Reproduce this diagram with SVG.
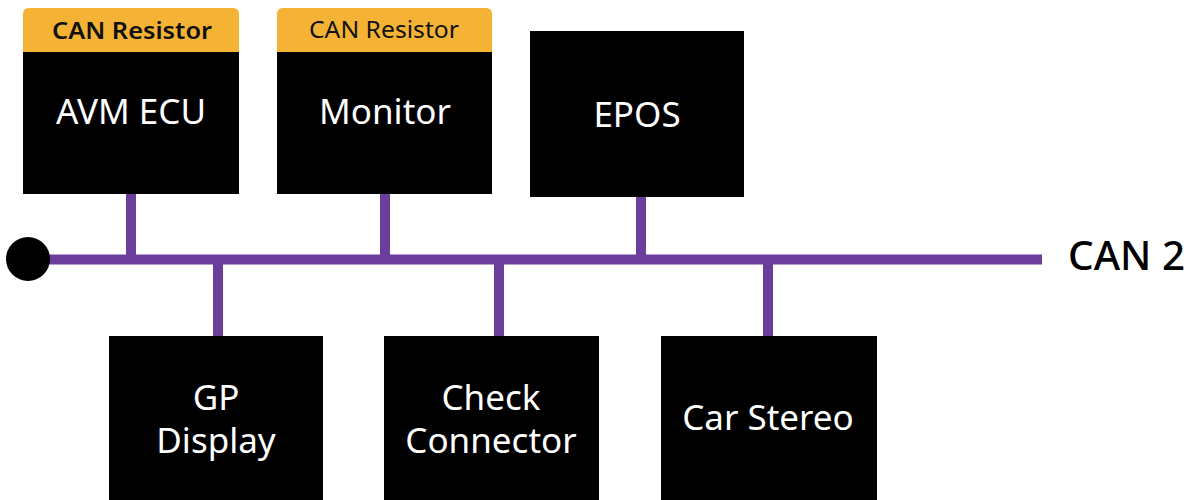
<svg xmlns="http://www.w3.org/2000/svg" width="1192" height="500" viewBox="0 0 1192 500">
<style>
.box{fill:#000}
.hdr{fill:#F5B335}
.lbl{fill:#fff;font-family:"Noto Sans","Open Sans",sans-serif;font-size:35px;text-anchor:middle}
.res{fill:#111;font-family:"Noto Sans","Open Sans",sans-serif;font-size:24px;text-anchor:middle}
.wire{stroke:#6B3E9B;stroke-width:10;fill:none}
</style>
<rect width="1192" height="500" fill="#fff"/>
<g id="connectors">
<line class="wire" x1="28" y1="259.5" x2="1042" y2="259.5"/>
<line class="wire" x1="131" y1="194" x2="131" y2="259"/>
<line class="wire" x1="385" y1="194" x2="385" y2="259"/>
<line class="wire" x1="641" y1="194" x2="641" y2="259"/>
<line class="wire" x1="218" y1="260" x2="218" y2="337"/>
<line class="wire" x1="499" y1="260" x2="499" y2="337"/>
<line class="wire" x1="768" y1="260" x2="768" y2="338"/>
<circle cx="28" cy="259" r="22" fill="#000"/>
</g>
<g id="avm-ecu">
<path class="hdr" d="M23,52 V14 Q23,8 29,8 H233 Q239,8 239,14 V52 Z"/>
<rect class="box" x="23" y="52" width="216" height="142"/>
<text class="res" x="132" y="39" font-weight="600" textLength="160" lengthAdjust="spacingAndGlyphs">CAN Resistor</text>
<text class="lbl" x="131" y="124">AVM ECU</text>
</g>
<g id="monitor">
<path class="hdr" d="M277,52 V14 Q277,8 283,8 H486 Q492,8 492,14 V52 Z"/>
<rect class="box" x="277" y="52" width="215" height="142"/>
<text class="res" x="384" y="38" textLength="150" lengthAdjust="spacingAndGlyphs">CAN Resistor</text>
<text class="lbl" x="385" y="124">Monitor</text>
</g>
<g id="epos">
<rect class="box" x="530" y="31" width="214" height="166"/>
<text class="lbl" x="637" y="127">EPOS</text>
</g>
<g id="gp-display">
<rect class="box" x="109" y="336" width="214" height="170"/>
<text class="lbl" x="216" y="410">GP</text>
<text class="lbl" x="216" y="453">Display</text>
</g>
<g id="check-connector">
<rect class="box" x="384" y="336" width="215" height="170"/>
<text class="lbl" x="491" y="410">Check</text>
<text class="lbl" x="491" y="453">Connector</text>
</g>
<g id="car-stereo">
<rect class="box" x="661" y="336" width="216" height="170"/>
<text class="lbl" x="768" y="430">Car Stereo</text>
</g>
<g id="can2-label">
<text x="1068" y="270" font-family="'Noto Sans','Open Sans',sans-serif" font-size="39" font-weight="500" fill="#000" textLength="117" lengthAdjust="spacingAndGlyphs">CAN 2</text>
</g>
</svg>
